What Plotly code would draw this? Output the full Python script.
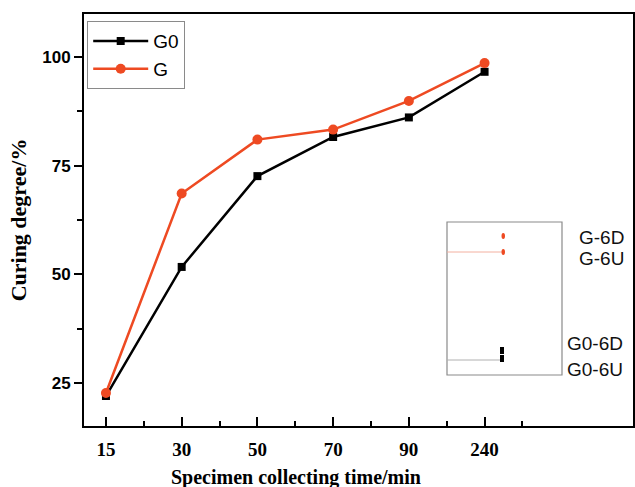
import plotly.graph_objects as go

times = ["15", "30", "50", "70", "90", "240"]
g0_values = [22.0, 51.7, 72.6, 81.6, 86.1, 96.6]
g_values = [22.7, 68.6, 81.0, 83.3, 89.9, 98.6]
y_ticks = [25, 50, 75, 100]
inset_labels = ["G-6D", "G-6U", "G0-6D", "G0-6U"]

W, H = 635, 487
L, R, T, B = 84, 2, 14, 61
pw, ph = W - L - R, H - T - B

def px(x):
    return (x - L) / pw

def py(y):
    return (H - B - y) / ph

idx = list(range(len(times)))
fig = go.Figure()
fig.add_trace(go.Scatter(x=idx, y=g0_values, name="G0", mode="lines+markers",
                         line=dict(color="black", width=2.5),
                         marker=dict(symbol="square", size=8, color="black")))
fig.add_trace(go.Scatter(x=idx, y=g_values, name="G", mode="lines+markers",
                         line=dict(color="#ee4a22", width=2.5),
                         marker=dict(symbol="circle", size=10, color="#ee4a22")))

shapes = [
    dict(type="rect", xref="paper", yref="paper", x0=px(447), x1=px(562), y0=py(375), y1=py(222),
         line=dict(color="#8a8a8a", width=1.2)),
    dict(type="line", xref="paper", yref="paper", x0=px(447), x1=px(502), y0=py(252), y1=py(252),
         line=dict(color="#f3b0a0", width=1)),
    dict(type="circle", xref="paper", yref="paper", x0=px(501.5), x1=px(505), y0=py(239), y1=py(233),
         fillcolor="#ee4a22", line=dict(width=0)),
    dict(type="circle", xref="paper", yref="paper", x0=px(501.5), x1=px(505), y0=py(255), y1=py(249),
         fillcolor="#ee4a22", line=dict(width=0)),
    dict(type="line", xref="paper", yref="paper", x0=px(447), x1=px(500), y0=py(360), y1=py(360),
         line=dict(color="#b0b0b0", width=1)),
    dict(type="rect", xref="paper", yref="paper", x0=px(500), x1=px(504), y0=py(354), y1=py(347),
         fillcolor="black", line=dict(width=0)),
    dict(type="rect", xref="paper", yref="paper", x0=px(500), x1=px(504), y0=py(362), y1=py(355),
         fillcolor="black", line=dict(width=0)),
]

label_pos = [(577, 237), (577, 258), (565, 343), (565, 369)]
annotations = []
for txt, (x, y) in zip(inset_labels, label_pos):
    annotations.append(dict(text=txt, xref="paper", yref="paper", x=px(x), y=py(y),
                            xanchor="left", yanchor="middle", showarrow=False,
                            font=dict(family="Liberation Sans, Arial", size=19, color="#111")))
annotations.append(dict(text="Specimen collecting time/min", xref="paper", yref="paper",
                        x=px(296), y=py(464), xanchor="center", yanchor="top", showarrow=False,
                        font=dict(family="Liberation Serif, Times New Roman", size=20, color="black", weight="bold")))

fig.update_layout(
    width=W, height=H,
    margin=dict(l=L, r=R, t=T, b=B),
    plot_bgcolor="white", paper_bgcolor="white",
    shapes=shapes, annotations=annotations,
    showlegend=True,
    legend=dict(x=px(87), y=py(21), xanchor="left", yanchor="top",
                bordercolor="#8a8a8a", borderwidth=1.2, bgcolor="white",
                font=dict(family="Liberation Sans, Arial", size=19, color="black"),
                itemwidth=55, tracegroupgap=0),
    xaxis=dict(range=[-0.29, 6.96], tickvals=idx, ticktext=times, automargin=False,
               showline=True, linecolor="black", linewidth=2, mirror=True,
               ticks="inside", ticklen=9, tickwidth=1.5, tickcolor="black",
               showgrid=False, zeroline=False, ticklabelstandoff=5,
               minor=dict(tickvals=[i + 0.5 for i in idx], ticks="inside", ticklen=5, tickwidth=1.5, tickcolor="black"),
               tickfont=dict(family="Liberation Serif, Times New Roman", size=19, color="black", weight="bold")),
    yaxis=dict(range=[15.1, 109.9], tickvals=y_ticks, automargin=False,
               showline=True, linecolor="black", linewidth=2, mirror=True,
               ticks="outside", ticklen=8, tickwidth=1.5, tickcolor="black",
               showgrid=False, zeroline=False,
               minor=dict(tickvals=[37.5, 62.5, 87.5], ticks="outside", ticklen=5, tickwidth=1.5, tickcolor="black"),
               tickfont=dict(family="Liberation Sans, Arial", size=17, color="black", weight="bold"),
               title=dict(text="Curing degree/%", standoff=10,
                          font=dict(family="Liberation Serif, Times New Roman", size=22, color="black", weight="bold"))),
)

fig.write_html("out.html", config={"displayModeBar": False},
               post_script="document.body.style.margin='0';document.body.style.overflow='hidden';")
